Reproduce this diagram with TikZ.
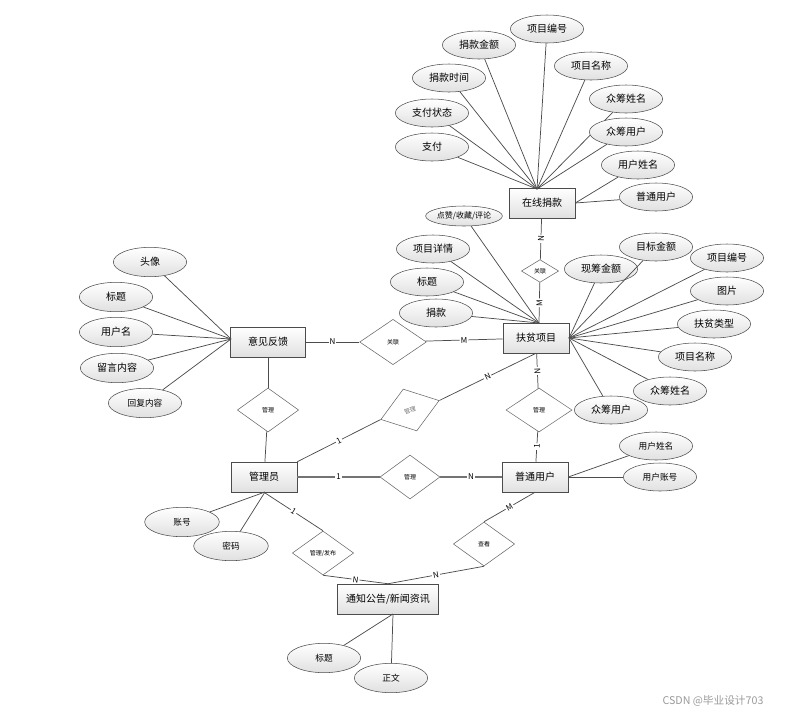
\documentclass[tikz,border=0pt]{standalone}
\usepackage{fontspec}
\setmainfont{Noto Sans CJK SC}
\usetikzlibrary{shapes.geometric}

\tikzset{
  entity/.style={draw=black!70, top color=white, bottom color=black!12, minimum width=49.5pt, minimum height=22.5pt, inner sep=1pt, font=\fontsize{7.5}{9}\selectfont},
  attr/.style={ellipse, draw=black!70, top color=white, bottom color=black!12, minimum width=55pt, minimum height=21pt, inner sep=0pt, font=\fontsize{7.5}{9}\selectfont},
  rel/.style={diamond, draw=black!60, fill=white, minimum width=46pt, minimum height=33pt, inner sep=0pt, font=\fontsize{4.5}{5}\selectfont},
  link/.style={draw=black!70, line width=0.55pt},
  card/.style={midway, sloped, fill=white, inner sep=0.8pt, font=\fontsize{6}{7}\selectfont}
}

\begin{document}
\begin{tikzpicture}[x=0.75pt, y=-0.75pt]
\useasboundingbox (0,0) rectangle (800,718);

% entities
\node[entity] (zxjk) at (542,203) {在线捐款};
\node[entity] (fpxm) at (536,338) {扶贫项目};
\node[entity, minimum width=56pt] (yjfk) at (268,342) {意见反馈};
\node[entity] (gly) at (264,477) {管理员};
\node[entity] (ptyh) at (535,477) {普通用户};
\node[entity, minimum width=76pt] (tzgg) at (388,599) {通知公告/新闻资讯};

% relationships
\node[rel, minimum width=28pt, minimum height=17pt] (gl1) at (540,271) {关联};
\node[rel, minimum width=50pt, minimum height=34pt] (gl2) at (393,342) {关联};
\node[rel] (gl3) at (268,410) {管理};
\node[rel, rotate=18, text=black!55] (gl4) at (410,410) {管理};
\node[rel, minimum width=45pt] (gl5) at (410,477) {管理};
\node[rel, minimum width=49.5pt] (gl6) at (539,410) {管理};
\node[rel] (glfb) at (323,553) {管理/发布};
\node[rel] (ck) at (484,544) {查看};

% meeting points of the attribute lines
\coordinate (zxjk-t) at (537,189);
\coordinate (fpxm-t) at (539,323);
\coordinate (fpxm-r) at (569,338);
\coordinate (yjfk-l) at (231,339);
\coordinate (gly-b) at (265,492);
\coordinate (tzgg-b) at (393,614);

% attributes
\foreach \n/\p/\t in {za1/{547,29}/项目编号, za2/{479,45}/捐款金额, za3/{591,66}/项目名称, za4/{449,78}/捐款时间,
    za5/{626,99}/众筹姓名, za6/{432,113}/支付状态, za7/{626,132}/众筹用户, za8/{432,147}/支付} {
  \node[attr] (\n) at (\p) {\t};
  \draw[link] (\n) -- (zxjk-t);
}
\foreach \n/\p/\t in {za9/{638,165}/用户姓名, za10/{656,197}/普通用户} {
  \node[attr] (\n) at (\p) {\t};
  \draw[link] (\n) -- (zxjk.east);
}
\node[attr, minimum height=15pt, font=\fontsize{6}{7}\selectfont] (fa1) at (464,216) {点赞/收藏/评论};
\draw[link] (fa1) -- (fpxm-t);
\foreach \n/\p/\t in {fa2/{433,249}/项目详情, fa3/{427,282}/标题, fa4/{436,313}/捐款} {
  \node[attr] (\n) at (\p) {\t};
  \draw[link] (\n) -- (fpxm-t);
}
\foreach \n/\p/\t in {fa5/{601,269}/现筹金额, fa6/{656,247}/目标金额, fa7/{727,258}/项目编号, fa8/{727,291}/图片,
    fa9/{714,324}/扶贫类型, fa10/{695,357}/项目名称, fa11/{670,391}/众筹姓名, fa12/{611,410}/众筹用户} {
  \node[attr] (\n) at (\p) {\t};
  \draw[link] (\n) -- (fpxm-r);
}
\foreach \n/\p/\t in {ya1/{150,262}/头像, ya2/{116,297}/标题, ya3/{116,332}/用户名, ya4/{117,368}/留言内容} {
  \node[attr, minimum height=22pt] (\n) at (\p) {\t};
  \draw[link] (\n) -- (yjfk-l);
}
\node[attr, minimum height=22pt, font=\fontsize{6.5}{8}\selectfont] (ya5) at (145,403) {回复内容};
\draw[link] (ya5) -- (yjfk-l);
\foreach \n/\p/\t in {ga1/{182,522}/账号, ga2/{231,546}/密码} {
  \node[attr, minimum width=56pt, minimum height=22pt, font=\fontsize{6.5}{8}\selectfont] (\n) at (\p) {\t};
  \draw[link] (\n) -- (gly-b);
}
\foreach \n/\p/\t in {pa1/{656,446}/用户姓名, pa2/{660,477}/用户账号} {
  \node[attr, font=\fontsize{6.5}{8}\selectfont] (\n) at (\p) {\t};
  \draw[link] (\n) -- (ptyh.east);
}
\foreach \n/\p/\t in {ta1/{324,658}/标题, ta2/{391,678}/正文} {
  \node[attr, minimum height=22pt, font=\fontsize{6.5}{8}\selectfont] (\n) at (\p) {\t};
  \draw[link] (\n) -- (tzgg-b);
}

% relationship lines
\draw[link] (zxjk) -- node[card] {N} (gl1);
\draw[link] (gl1) -- node[card] {M} (fpxm-t);
\draw[link] (yjfk) -- node[card] {N} (gl2);
\draw[link] (gl2) -- node[card] {M} (fpxm);
\draw[link] (yjfk) -- (gl3);
\draw[link] (gl3) -- (gly);
\draw[link] (gly.north east) -- node[card] {1} (gl4.west);
\draw[link] (gl4.east) -- node[card] {N} (fpxm.south);
\draw[link, line width=1pt, black!55] (gly) -- node[card, text=black] {1} (gl5);
\draw[link, line width=1pt, black!55] (gl5) -- node[card, text=black] {N} (ptyh);
\draw[link] (fpxm) -- node[card] {N} (gl6);
\draw[link] (gl6) -- node[card] {1} (ptyh);
\draw[link] (gly.south) -- node[card] {1} (glfb.north);
\draw[link] (glfb.south) -- node[card] {N} (tzgg.north);
\draw[link] (ptyh.south) -- node[card] {M} (ck.north);
\draw[link] (ck.south) -- node[card] {N} (tzgg.north);

\node[text=black!40, font=\fontsize{8}{9}\selectfont] (wm) at (713,701) {CSDN @毕业设计703};
\end{tikzpicture}
\end{document}
